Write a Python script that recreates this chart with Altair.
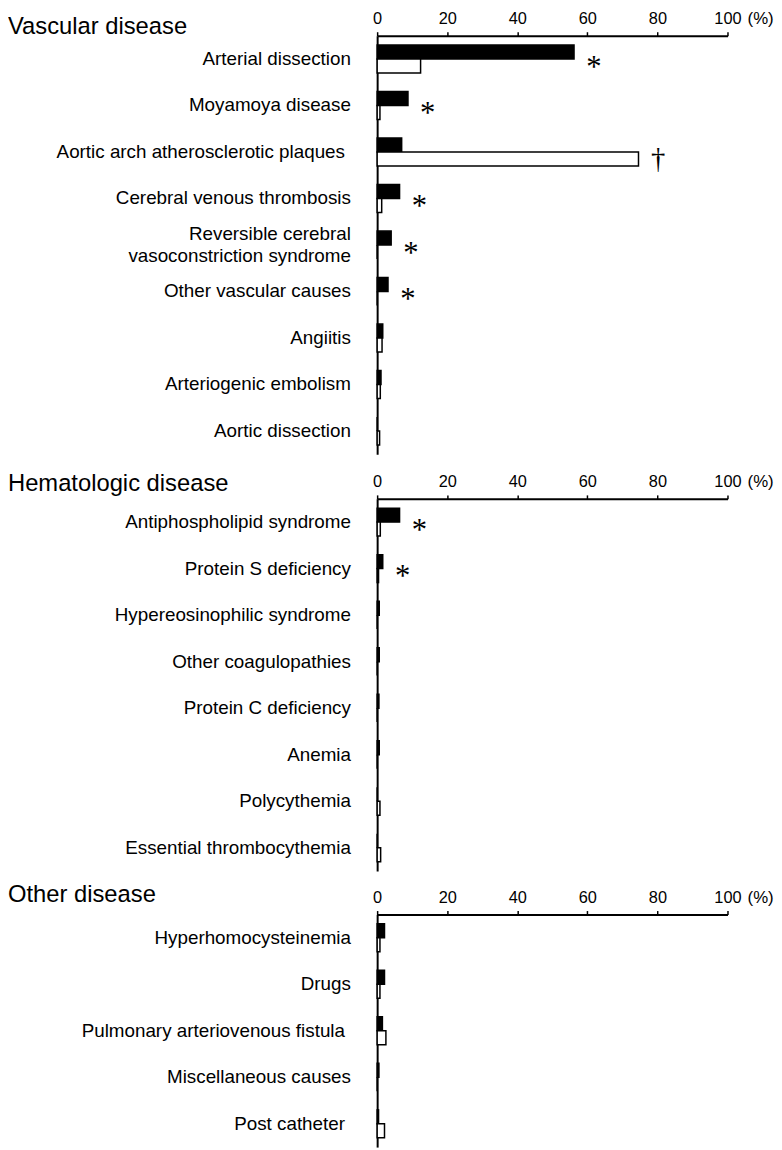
import altair as alt
import pandas as pd

# ---- data ----
vascular_cats = [
    "Arterial dissection",
    "Moyamoya disease",
    "Aortic arch atherosclerotic plaques ",
    "Cerebral venous thrombosis",
    "Reversible cerebral|vasoconstriction syndrome",
    "Other vascular causes",
    "Angiitis",
    "Arteriogenic embolism",
    "Aortic dissection",
]
vascular_black = [56.2, 8.8, 7.0, 6.4, 4.0, 3.1, 1.6, 1.1, 0.0]
vascular_white = [12.4, 0.8, 74.6, 1.3, 0.0, 0.0, 1.4, 0.9, 0.7]
vascular_marks = ["*", "*", "†", "*", "*", "*", "", "", ""]

hema_cats = [
    "Antiphospholipid syndrome",
    "Protein S deficiency",
    "Hypereosinophilic syndrome",
    "Other coagulopathies",
    "Protein C deficiency",
    "Anemia",
    "Polycythemia",
    "Essential thrombocythemia",
]
hema_black = [6.4, 1.6, 0.6, 0.6, 0.5, 0.6, 0.0, 0.0]
hema_white = [0.9, 0.4, 0.0, 0.0, 0.0, 0.0, 0.8, 1.0]
hema_marks = ["*", "*", "", "", "", "", "", ""]

other_cats = [
    "Hyperhomocysteinemia",
    "Drugs",
    "Pulmonary arteriovenous fistula ",
    "Miscellaneous causes",
    "Post catheter ",
]
other_black = [2.1, 2.1, 1.5, 0.5, 0.4]
other_white = [0.8, 0.8, 2.5, 0.0, 2.1]
other_marks = ["", "", "", "", ""]

ticks = [0, 20, 40, 60, 80, 100]

STEP = 47
WIDTH = 354
SANS = "Liberation Sans"
SERIF = "Liberation Serif"


def panel(title, cats, black, white, marks, title_y):
    rows = []
    for c, b, w in zip(cats, black, white):
        rows.append({"cat": c, "series": "a", "value": b})
        rows.append({"cat": c, "series": "b", "value": w})
    df = pd.DataFrame(rows)
    ann = pd.DataFrame({
        "cat": cats,
        "mark": marks,
        "value": [max(b, w) for b, w in zip(black, white)],
    })

    x = alt.X(
        "value:Q",
        scale=alt.Scale(domain=[0, 100], nice=False),
        axis=alt.Axis(
            orient="top", values=ticks, grid=False, tickSize=4, tickWidth=1.5,
            domainWidth=2, domainColor="black", tickColor="black", labelFlush=False,
            labelPadding=5, labelFontSize=16.5, labelFont=SANS, labelColor="black",
            title="(%)", titleFont=SANS, titleFontSize=17, titleFontWeight="normal",
            titleColor="black", titleX=387, titleY=-8, titleAlign="center",
            titleBaseline="bottom", titleAngle=0,
        ),
    )
    y = alt.Y(
        "cat:N", sort=cats,
        scale=alt.Scale(domain=cats, paddingInner=0.4, paddingOuter=0.2),
        axis=alt.Axis(
            title=None, ticks=False, labelFontSize=19,
            labelPadding={"condition": {"test": "substring(datum.value, length(datum.value) - 1) == ' '", "value": 33}, "value": 27},
            labelFont=SANS, labelColor="black", labelLimit=500,
            labelExpr="split(datum.label, '|')", labelLineHeight=23,
            labelOffset={"condition": {"test": "indexof(datum.value, '|') >= 0", "value": -11.5}, "value": 0},
            domainWidth=2, domainColor="black",
        ),
    )
    bars = alt.Chart(df).mark_bar(stroke="black", strokeWidth=1.5).encode(
        x=x,
        y=y,
        yOffset=alt.YOffset("series:N", scale=alt.Scale(domain=["a", "b"], paddingInner=0, paddingOuter=0)),
        fill=alt.Fill("series:N", scale=alt.Scale(domain=["a", "b"], range=["black", "white"]), legend=None),
    )
    star = alt.Chart(ann).transform_filter(alt.datum.mark == "*").mark_text(
        font=SERIF, fontSize=31, align="center", baseline="middle", dx=20, dy=9, color="black"
    ).encode(x="value:Q", y=alt.Y("cat:N", sort=cats), text="mark:N")
    dagger = alt.Chart(ann).transform_filter(alt.datum.mark == "†").mark_text(
        font=SERIF, fontSize=29, align="center", baseline="middle", dx=20, dy=7, color="black"
    ).encode(x="value:Q", y=alt.Y("cat:N", sort=cats), text="mark:N")
    head = alt.Chart(pd.DataFrame({"t": [title]})).mark_text(
        font=SANS, fontSize=24, align="left", baseline="alphabetic", color="black"
    ).encode(text="t:N", x=alt.value(-373), y=alt.value(title_y))

    return alt.layer(bars, star, dagger, head).properties(width=WIDTH, height=STEP * len(cats))


top = alt.vconcat(
    panel("Vascular disease", vascular_cats, vascular_black, vascular_white, vascular_marks, -2),
    panel("Hematologic disease", hema_cats, hema_black, hema_white, hema_marks, -8),
    spacing=18,
).resolve_scale(y="independent")

chart = alt.vconcat(
    top,
    panel("Other disease", other_cats, other_black, other_white, other_marks, -13),
    spacing=12,
).properties(padding={"top": -4, "left": 0, "right": 0, "bottom": 0}).configure_view(stroke=None).resolve_scale(y="independent")

chart.save("out.html", embed_options={"renderer": "svg", "actions": False})
